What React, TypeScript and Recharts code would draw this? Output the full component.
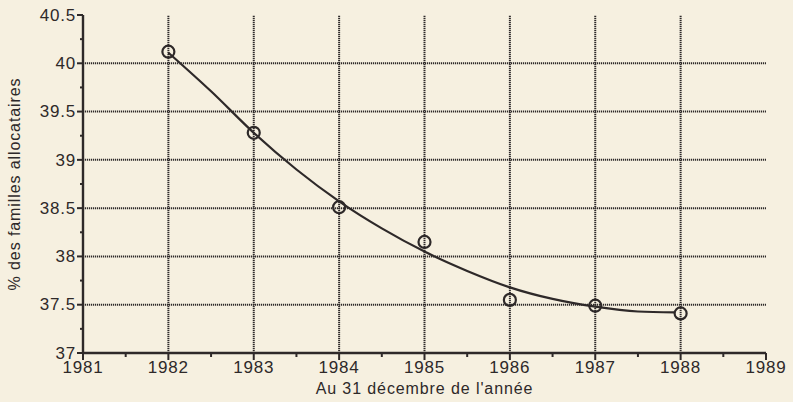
import React from 'react'
import { ComposedChart, Line, XAxis, YAxis, ReferenceLine } from 'recharts'

// observed points (circles)
const years = [1982, 1983, 1984, 1985, 1986, 1987, 1988]
const shares = [40.12, 39.28, 38.51, 38.15, 37.55, 37.49, 37.41]

// fitted curve
const fitYears = [1982, 1982.5, 1983, 1983.5, 1984, 1984.5, 1985, 1985.5, 1986, 1986.5, 1987, 1987.5, 1987.93]
const fitShares = [40.11, 39.71, 39.28, 38.9, 38.57, 38.29, 38.05, 37.85, 37.68, 37.56, 37.48, 37.43, 37.42]

const xTicks = [1981, 1981.5, 1982, 1982.5, 1983, 1983.5, 1984, 1984.5, 1985, 1985.5, 1986, 1986.5, 1987, 1987.5, 1988, 1988.5, 1989]
const yTicks = [37, 37.25, 37.5, 37.75, 38, 38.25, 38.5, 38.75, 39, 39.25, 39.5, 39.75, 40, 40.25, 40.5]
const gridYears = [1982, 1983, 1984, 1985, 1986, 1987, 1988]
const gridShares = [37.5, 38, 38.5, 39, 39.5, 40]

const ink = '#2e2929'
const paper = '#f6f0e0'
const font = '"Liberation Sans", Arial, sans-serif'

const points = years.map((year, i) => ({ year, share: shares[i] }))
const fit = fitYears.map((year, i) => ({ year, share: fitShares[i] }))

const isMajorX = (v: number) => Number.isInteger(v)
const isMajorY = (v: number) => Math.abs(v * 2 - Math.round(v * 2)) < 1e-6

function BottomTick({ x, y, payload }: any) {
    const major = isMajorX(payload.value)
    return (
        <g>
            <line x1={x} x2={x} y1={y} y2={y + (major ? 7 : 4)} stroke={ink} strokeWidth={2} />
            {major && (
                <text x={x} y={y + 20} textAnchor="middle" fill={ink} fontSize={17} letterSpacing={0.8} fontFamily={font}>
                    {payload.value}
                </text>
            )}
        </g>
    )
}

function TopTick({ x, y, payload }: any) {
    const major = isMajorX(payload.value)
    return <line x1={x} x2={x} y1={y} y2={y - (major ? 6 : 4)} stroke={ink} strokeWidth={2} />
}

function LeftTick({ x, y, payload }: any) {
    const major = isMajorY(payload.value)
    return (
        <g>
            <line x1={x} x2={x - (major ? 6 : 3)} y1={y} y2={y} stroke={ink} strokeWidth={2} />
            {major && (
                <text x={x - 7} y={y} dy="0.34em" textAnchor="end" fill={ink} fontSize={17} letterSpacing={0.8} fontFamily={font}>
                    {payload.value}
                </text>
            )}
        </g>
    )
}

function RightTick({ x, y, payload }: any) {
    const major = isMajorY(payload.value)
    return <line x1={x} x2={x + (major ? 5 : 3)} y1={y} y2={y} stroke={ink} strokeWidth={2} />
}

export default function App() {
    return (
        <div style={{ position: 'absolute', left: 0, top: 0, width: 793, height: 402, background: paper }}>
            <ComposedChart width={793} height={402} margin={{ top: 15, right: 27, left: 8, bottom: 6 }}>
                <XAxis
                    xAxisId="b"
                    dataKey="year"
                    type="number"
                    domain={[1981, 1989]}
                    ticks={xTicks}
                    interval={0}
                    height={43}
                    tickSize={0}
                    tickMargin={0}
                    tick={<BottomTick />}
                    axisLine={{ stroke: ink, strokeWidth: 2.4 }}
                    label={{ value: "Au 31 décembre de l'année", position: 'insideBottom', offset: 2, fill: ink, fontSize: 16, letterSpacing: 0.9, fontFamily: font }}
                />
                <XAxis
                    xAxisId="t"
                    orientation="top"
                    dataKey="year"
                    type="number"
                    domain={[1981, 1989]}
                    ticks={xTicks}
                    interval={0}
                    height={0}
                    tickSize={0}
                    tickMargin={0}
                    tick={<TopTick />}
                    axisLine={{ stroke: ink, strokeWidth: 2.4 }}
                />
                <YAxis
                    yAxisId="l"
                    type="number"
                    domain={[37, 40.5]}
                    ticks={yTicks}
                    interval={0}
                    width={75}
                    tickSize={0}
                    tickMargin={0}
                    tick={<LeftTick />}
                    axisLine={{ stroke: ink, strokeWidth: 2.4 }}
                    label={{ value: '% des familles allocataires', angle: -90, position: 'insideLeft', offset: 6, fill: ink, fontSize: 16, letterSpacing: 0.9, fontFamily: font, style: { textAnchor: 'middle' } }}
                />
                <YAxis
                    yAxisId="r"
                    orientation="right"
                    type="number"
                    domain={[37, 40.5]}
                    ticks={yTicks}
                    interval={0}
                    width={0}
                    tickSize={0}
                    tickMargin={0}
                    tick={<RightTick />}
                    axisLine={{ stroke: ink, strokeWidth: 2.4 }}
                />
                {gridYears.map((yr) => (
                    <ReferenceLine key={`gx${yr}`} x={yr} xAxisId="b" yAxisId="l" stroke={ink} strokeWidth={2} strokeDasharray="1.2 0.8" />
                ))}
                {gridShares.map((v) => (
                    <ReferenceLine key={`gy${v}`} y={v} xAxisId="b" yAxisId="l" stroke={ink} strokeWidth={2} strokeDasharray="1.2 0.8" />
                ))}
                <Line
                    data={fit}
                    xAxisId="b"
                    yAxisId="l"
                    dataKey="share"
                    type="monotone"
                    stroke={ink}
                    strokeWidth={2.2}
                    dot={false}
                    activeDot={false}
                    isAnimationActive={false}
                />
                <Line
                    data={points}
                    xAxisId="b"
                    yAxisId="l"
                    dataKey="share"
                    stroke="none"
                    dot={{ r: 6, stroke: ink, strokeWidth: 2.2, fill: 'none' }}
                    activeDot={false}
                    isAnimationActive={false}
                />
            </ComposedChart>
        </div>
    )
}
